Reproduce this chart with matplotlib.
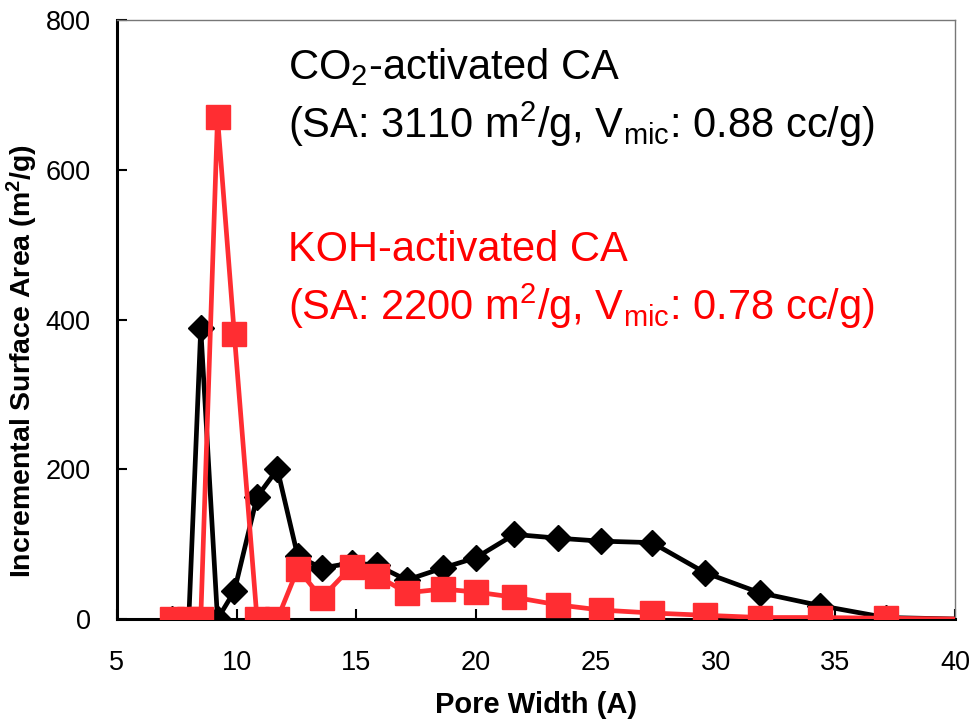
#!/usr/bin/env python3
import matplotlib
matplotlib.use("Agg")
import matplotlib.pyplot as plt

# Pore width (A) and incremental surface area (m2/g)
co2_width = [7.3, 8.0, 8.5, 9.2, 9.9, 10.85, 11.7, 12.55, 13.55, 14.8, 15.85,
             17.1, 18.6, 20.0, 21.6, 23.4, 25.2, 27.35, 29.55, 31.85, 34.35,
             37.1, 40.0]
co2_area = [0, 0, 388, 0, 37, 163, 200, 84, 68, 75, 72,
            52, 68, 82, 113, 108, 104, 102, 62, 35, 18,
            2, 0]

koh_width = [7.3, 8.0, 8.5, 9.2, 9.9, 10.85, 11.7, 12.55, 13.55, 14.8, 15.85,
             17.1, 18.6, 20.0, 21.6, 23.4, 25.2, 27.35, 29.55, 31.85, 34.35,
             37.1, 40.0]
koh_area = [0, 0, 0, 670, 381, 0, 0, 67, 28, 70, 58,
            35, 40, 36, 29, 19, 12, 8, 5, 2, 2,
            1, 0]

plt.rcParams["font.family"] = ["Liberation Sans", "DejaVu Sans"]
plt.rcParams["mathtext.fontset"] = "custom"
plt.rcParams["mathtext.rm"] = "Liberation Sans"
plt.rcParams["mathtext.it"] = "Liberation Sans:italic"
plt.rcParams["mathtext.bf"] = "Liberation Sans:bold"

fig = plt.figure(figsize=(9.73, 7.25), dpi=100)
ax = fig.add_axes([0.1202, 0.1462, 0.8613, 0.8262])

# markers only where the source had them (last point is the line end at 40)
ax.plot(co2_width, co2_area, color="black", linewidth=3.4,
        marker="D", markersize=13, markevery=list(range(len(co2_width) - 1)),
        zorder=3)
ax.plot(koh_width, koh_area, color="#ff2d32", linewidth=3.4,
        marker="s", markersize=17, markevery=list(range(len(koh_width) - 1)),
        zorder=4)

ax.set_xlim(5, 40)
ax.set_ylim(0, 800)
ax.set_xticks([5, 10, 15, 20, 25, 30, 35, 40])
ax.set_yticks([0, 200, 400, 600, 800])
ax.tick_params(direction="in", length=7, width=1.5, labelsize=19.5)
ax.tick_params(axis="x", pad=22)
ax.tick_params(axis="y", pad=19)
for side in ["left", "bottom"]:
    ax.spines[side].set_linewidth(2.2)
for side in ["top", "right"]:
    ax.spines[side].set_linewidth(1.0)
    ax.spines[side].set_color("#777777")

ax.set_xlabel("Pore Width (A)", fontsize=21, fontweight="bold", labelpad=11)
ax.set_ylabel("Incremental Surface Area (m$^\\mathbf{2}$/g)", fontsize=20.5,
              fontweight="bold")
ax.yaxis.set_label_coords(-0.092, 0.43)

tx = 0.204
ax.text(tx, 0.9015, "CO$_2$-activated CA", transform=ax.transAxes,
        fontsize=30, va="baseline", color="black")
ax.text(tx, 0.803, "(SA: 3110 m$^2$/g, V$_{\\mathrm{mic}}$: 0.88 cc/g)",
        transform=ax.transAxes, fontsize=30, va="baseline", color="black")
ax.text(tx, 0.598, "KOH-activated CA", transform=ax.transAxes,
        fontsize=30, va="baseline", color="red")
ax.text(tx, 0.499, "(SA: 2200 m$^2$/g, V$_{\\mathrm{mic}}$: 0.78 cc/g)",
        transform=ax.transAxes, fontsize=30, va="baseline", color="red")

plt.savefig("out.png", dpi=100)
